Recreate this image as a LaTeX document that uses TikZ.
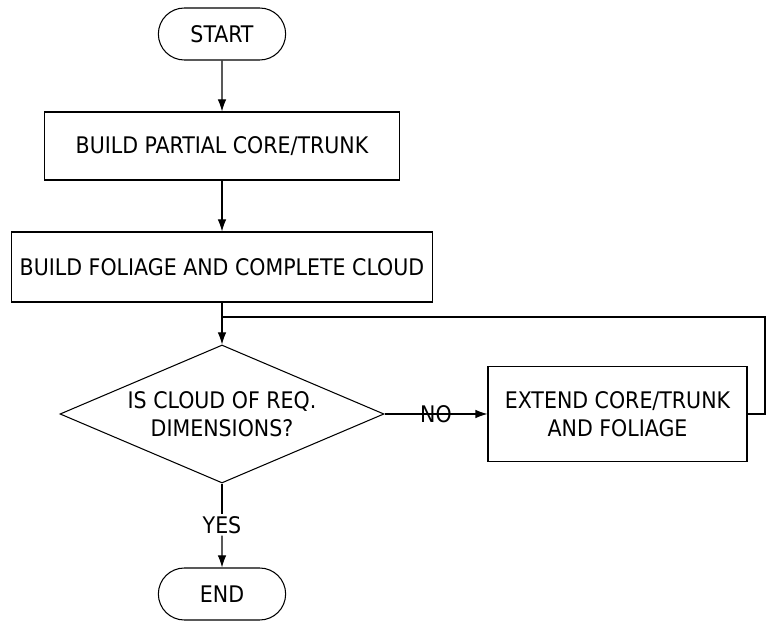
\documentclass[tikz,border=0pt]{standalone}
\usepackage{fontspec}
\setmainfont{DejaVu Sans Condensed}
\usepackage{tikz}
\usetikzlibrary{arrows.meta,positioning,calc,shapes.geometric,shapes.misc}
\tikzset{
  label/.style={font=\fontsize{13}{16}\selectfont},
  box/.style={draw, semithick, align=center, inner sep=2pt, label},
  terminal/.style={draw, semithick, rounded rectangle, align=center, minimum width=2.78cm, minimum height=1.04cm, label},
  decision/.style={draw, semithick, diamond, shape aspect=2.35, align=center, inner sep=0pt, minimum width=6.48cm, minimum height=2.76cm, label},
  line/.style={-{Latex[length=2.4mm,width=1.7mm]}, semithick}
}
\begin{document}
\begin{tikzpicture}
  \useasboundingbox (0,0) rectangle (15.32,-12.42);
  \node[terminal] (start) at (4.44,-0.68) {START};
  \node[box, minimum width=7.1cm, minimum height=1.36cm] (core) at (4.44,-2.92) {BUILD PARTIAL CORE/TRUNK};
  \node[box, minimum width=8.42cm, minimum height=1.4cm] (foliage) at (4.44,-5.34) {BUILD FOLIAGE AND COMPLETE CLOUD};
  \node[decision] (check) at (4.44,-8.28) {IS CLOUD OF REQ.\\DIMENSIONS?};
  \node[box, minimum width=5.18cm, minimum height=1.9cm] (extend) at (12.35,-8.28) {EXTEND CORE/TRUNK\\AND FOLIAGE};
  \node[label, inner sep=1pt] (yes) at (4.44,-10.5) {YES};
  \node[terminal] (end) at (4.44,-11.88) {END};
  \coordinate (join) at (4.44,-6.34);
  \coordinate (corner) at (15.3,-6.34);
  % main flow
  \draw[line] (start) -- (core);
  \draw[line] (core) -- (foliage);
  \draw[line] (foliage) -- (check);
  \draw[semithick] (check) -- (yes);
  \draw[line] (yes) -- (end);
  % loop back
  \draw[line] (check) -- node[label, inner sep=1pt, pos=0.5] {NO} (extend);
  \draw[semithick] (extend) -| (corner) -- (join);
\end{tikzpicture}
\end{document}
